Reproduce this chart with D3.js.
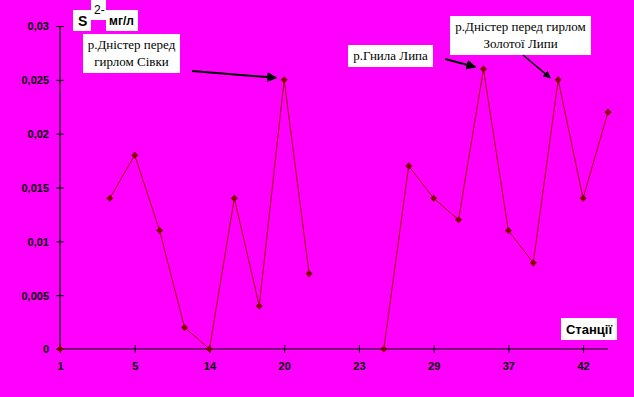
<!DOCTYPE html>
<html lang="uk">
<head>
<meta charset="UTF-8">
<title>S2- по станціях</title>
<script src="https://d3js.org/d3.v7.min.js"></script>
<style>
  body { margin: 0; background: #ff00ff; }
  svg { display: block; }
  .tick text { font-family: "Liberation Sans", Arial, sans-serif; font-weight: bold; font-size: 11px; fill: #000; }
  .note { font-family: "Liberation Serif", "Times New Roman", serif; font-size: 13px; fill: #000; }
</style>
</head>
<body>
<div id="chart"></div>
<script>
// station slots along the x axis (23 slots, label shown every third)
const slots = d3.range(23);
const tickSlots = [0, 3, 6, 9, 12, 15, 18, 21];
const tickLabels = ['1', '5', '14', '20', '23', '29', '37', '42'];
// sulfide values, mg/l (null = no measurement)
const values = [0, null, 0.014, 0.018, 0.011, 0.002, 0, 0.014, 0.004, 0.025, 0.007,
  null, null, 0, 0.017, 0.014, 0.012, 0.026, 0.011, 0.008, 0.025, 0.014, 0.022];
const yTicks = [0, 0.005, 0.01, 0.015, 0.02, 0.025, 0.03];
const yTickLabels = ['0', '0,005', '0,01', '0,015', '0,02', '0,025', '0,03'];

const width = 634, height = 397;
const margin = { top: 26, right: 25, bottom: 48, left: 60 };

const svg = d3.select('#chart').append('svg')
  .attr('width', width)
  .attr('height', height);

svg.append('rect').attr('width', width).attr('height', height).attr('fill', '#ff00ff');

const x = d3.scaleLinear()
  .domain([0, slots.length - 1])
  .range([margin.left, width - margin.right - 1]);

const y = d3.scaleLinear()
  .domain([0, 0.03])
  .range([height - margin.bottom, margin.top]);

// y axis
const yAxis = svg.append('g')
  .attr('transform', `translate(${margin.left},0)`)
  .call(d3.axisLeft(y).tickValues(yTicks).tickSize(4)
    .tickFormat((d, i) => yTickLabels[i]));
yAxis.select('.domain').attr('stroke', '#000').attr('stroke-width', 1.2).attr('d', `M0,${y(0)}V${y(0.03)}`);
yAxis.selectAll('.tick line').attr('x1', -4).attr('x2', 4).attr('stroke', '#000');
yAxis.selectAll('.tick text').attr('x', -11).attr('dy', '0.35em');

// x axis
const xAxis = svg.append('g')
  .attr('transform', `translate(0,${y(0)})`)
  .call(d3.axisBottom(x).tickValues(tickSlots).tickSize(4)
    .tickFormat((d, i) => tickLabels[i]));
xAxis.select('.domain').attr('stroke', '#000').attr('stroke-width', 1.2).attr('d', `M${x(0)},0H${x(slots.length - 1)}`);
xAxis.selectAll('.tick line').attr('y1', -4).attr('y2', 4).attr('stroke', '#000');
xAxis.selectAll('.tick text').attr('y', 13);

// series line
const line = d3.line()
  .defined(d => d !== null)
  .x((d, i) => x(i))
  .y(d => y(d));

svg.append('path')
  .datum(values)
  .attr('fill', 'none')
  .attr('stroke', '#a00000')
  .attr('stroke-width', 1)
  .attr('d', line);

// diamond markers
const pts = values.map((v, i) => ({ i, v })).filter(d => d.v !== null);
svg.selectAll('.marker')
  .data(pts)
  .enter()
  .append('path')
  .attr('class', 'marker')
  .attr('d', d3.symbol().type(d3.symbolDiamond2).size(32))
  .attr('transform', d => `translate(${x(d.i)},${y(d.v)})`)
  .attr('fill', '#800000');

// axis title boxes
svg.append('rect').attr('x', 73).attr('y', 10).attr('width', 18).attr('height', 21).attr('fill', '#fff');
svg.append('rect').attr('x', 91).attr('y', 0).attr('width', 15).attr('height', 20).attr('fill', '#fff');
svg.append('rect').attr('x', 106).attr('y', 10).attr('width', 32).attr('height', 21).attr('fill', '#fff');
svg.append('text').attr('x', 78).attr('y', 26)
  .style('font-family', '"Liberation Sans", Arial, sans-serif').style('font-weight', 'bold').style('font-size', '14px')
  .text('S');
svg.append('text').attr('x', 94).attr('y', 14)
  .style('font-family', '"Liberation Sans", Arial, sans-serif').style('font-size', '12px')
  .text('2-');
svg.append('text').attr('x', 109).attr('y', 25)
  .style('font-family', '"Liberation Sans", Arial, sans-serif').style('font-weight', 'bold').style('font-size', '12px')
  .text('мг/л');

svg.append('rect').attr('x', 561).attr('y', 318).attr('width', 56).attr('height', 22).attr('fill', '#fff');
svg.append('text').attr('x', 589).attr('y', 334).attr('text-anchor', 'middle')
  .style('font-family', '"Liberation Sans", Arial, sans-serif').style('font-weight', 'bold').style('font-size', '13px')
  .text('Станції');

// annotations
const notes = [
  { lines: ['р.Дністер перед', 'гирлом Сівки'], box: [83, 34, 97, 39], slot: 9, from: [192, 71], w: 2 },
  { lines: ['р.Гнила Липа'], box: [348, 45, 85, 22], slot: 17, from: [445, 59], w: 2 },
  { lines: ['р.Дністер перед гирлом', 'Золотої Липи'], box: [450, 16, 141, 39], slot: 20, from: [523, 55], w: 1.5 }
];

svg.append('defs').append('marker')
  .attr('id', 'arrow')
  .attr('viewBox', '0 0 10 10')
  .attr('refX', 9).attr('refY', 5)
  .attr('markerWidth', 5).attr('markerHeight', 5)
  .attr('orient', 'auto')
  .append('path').attr('d', 'M0,0L10,5L0,10z').attr('fill', '#000');

notes.forEach(n => {
  const [bx, by, bw, bh] = n.box;
  svg.append('rect').attr('x', bx).attr('y', by).attr('width', bw).attr('height', bh).attr('fill', '#fff');
  n.lines.forEach((t, k) => {
    svg.append('text').attr('class', 'note')
      .attr('x', bx + bw / 2)
      .attr('y', by + 15 + k * 17)
      .attr('text-anchor', 'middle')
      .text(t);
  });
  const tx = x(n.slot) - 8, ty = y(values[n.slot]) - 2;
  svg.append('line')
    .attr('x1', n.from[0]).attr('y1', n.from[1])
    .attr('x2', tx).attr('y2', ty)
    .attr('stroke', '#000').attr('stroke-width', n.w)
    .attr('marker-end', 'url(#arrow)');
});
</script>
</body>
</html>
